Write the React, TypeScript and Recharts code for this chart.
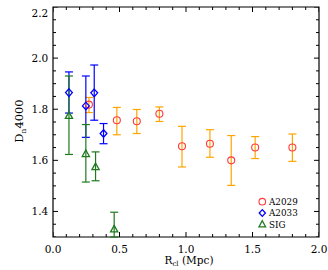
import React from "react";
import { ScatterChart, Scatter, XAxis, YAxis, ErrorBar, ReferenceArea } from "recharts";

// A2029
const a2029R = [0.27, 0.48, 0.63, 0.8, 0.97, 1.18, 1.34, 1.52, 1.8];
const a2029D = [1.818, 1.757, 1.753, 1.782, 1.655, 1.665, 1.6, 1.65, 1.65];
const a2029Lo = [1.787, 1.7, 1.705, 1.752, 1.574, 1.612, 1.502, 1.607, 1.596];
const a2029Hi = [1.846, 1.807, 1.799, 1.809, 1.733, 1.72, 1.697, 1.693, 1.703];

// A2033
const a2033R = [0.12, 0.247, 0.31, 0.38];
const a2033D = [1.865, 1.813, 1.864, 1.705];
const a2033Lo = [1.785, 1.69, 1.757, 1.665];
const a2033Hi = [1.946, 1.93, 1.973, 1.744];

// SIG
const sigR = [0.12, 0.247, 0.32, 0.46];
const sigD = [1.774, 1.625, 1.574, 1.33];
const sigLo = [1.623, 1.515, 1.52, 1.3];
const sigHi = [1.93, 1.74, 1.633, 1.397];

const seriesNames = ["A2029", "A2033", "SIG"];

const xMajor = [0, 0.5, 1.0, 1.5, 2.0];
const yMajor = [1.4, 1.6, 1.8, 2.0, 2.2];
const xDomain = [0, 2];
const yDomain = [1.3, 2.2];

const FONT = "DejaVu Serif";
const RED = "#ff3b3b";
const ORANGE = "#ffa500";
const BLUE = "#0000ff";
const GREEN = "#1d7a1d";

const makeRows = (r: number[], d: number[], lo: number[], hi: number[]) =>
  r.map((x, i) => ({ r: x, d: d[i], err: [d[i] - lo[i], hi[i] - d[i]] }));

const a2029 = makeRows(a2029R, a2029D, a2029Lo, a2029Hi);
const a2033 = makeRows(a2033R, a2033D, a2033Lo, a2033Hi);
const sig = makeRows(sigR, sigD, sigLo, sigHi);

// minor ticks every 0.1 in x, 0.05 in y
const xTicks: number[] = [];
for (let i = 0; i <= 20; i++) xTicks.push(i / 10);
const yTicks: number[] = [];
for (let i = 0; i <= 18; i++) yTicks.push(Math.round((1.3 + i * 0.05) * 100) / 100);

const isMajor = (v: number, majors: number[]) => majors.some((m) => Math.abs(m - v) < 1e-6);

// tick marks on all four sides, pointing inwards
const bottomMarks = xTicks.map((x) => ({ r: x, d: yDomain[0], side: "b", major: isMajor(x, xMajor) }));
const topMarks = xTicks.map((x) => ({ r: x, d: yDomain[1], side: "t", major: isMajor(x, xMajor) }));
const leftMarks = yTicks.map((y) => ({ r: xDomain[0], d: y, side: "l", major: isMajor(y, yMajor) }));
const rightMarks = yTicks.map((y) => ({ r: xDomain[1], d: y, side: "r", major: isMajor(y, yMajor) }));
const allMarks = [...bottomMarks, ...topMarks, ...leftMarks, ...rightMarks];

const TickMark = (p: any) => {
  const { cx, cy } = p;
  const { side, major } = p.payload;
  const len = major ? 5 : 3;
  let d = "";
  if (side === "b") d = `M${cx},${cy}L${cx},${cy - len}`;
  if (side === "t") d = `M${cx},${cy}L${cx},${cy + len}`;
  if (side === "l") d = `M${cx},${cy}L${cx + len},${cy}`;
  if (side === "r") d = `M${cx},${cy}L${cx - len},${cy}`;
  return <path d={d} stroke="#000" strokeWidth={1} fill="none" />;
};

const CircleShape = (p: any) => (
  <circle cx={p.cx} cy={p.cy} r={3.5} fill="none" stroke={RED} strokeWidth={1.1} />
);
const DiamondShape = (p: any) => (
  <path
    d={`M${p.cx},${p.cy - 3.8}L${p.cx + 3.4},${p.cy}L${p.cx},${p.cy + 3.8}L${p.cx - 3.4},${p.cy}Z`}
    fill="none"
    stroke={BLUE}
    strokeWidth={1.3}
  />
);
const TriangleShape = (p: any) => (
  <path
    d={`M${p.cx},${p.cy - 4}L${p.cx + 3.6},${p.cy + 2.6}L${p.cx - 3.6},${p.cy + 2.6}Z`}
    fill="none"
    stroke={GREEN}
    strokeWidth={1.3}
  />
);

const BottomLabel = (p: any) => {
  const v = p.payload.value;
  if (!isMajor(v, xMajor)) return <g />;
  return (
    <text x={p.x} y={p.y + 16} textAnchor="middle" fontFamily={FONT} fontSize={10.5} fill="#000">
      {v.toFixed(1)}
    </text>
  );
};

const LeftLabel = (p: any) => {
  const v = p.payload.value;
  if (!isMajor(v, yMajor)) return <g />;
  const shift = Math.abs(v - 2.2) < 1e-6 ? 6 : 0;
  return (
    <text x={p.x - 4.7} y={p.y + 3.8 + shift} textAnchor="end" fontFamily={FONT} fontSize={10.5} fill="#000">
      {v.toFixed(1)}
    </text>
  );
};

const legendIcons = [
  (cx: number, cy: number) => <circle cx={cx} cy={cy} r={3.3} fill="none" stroke={RED} strokeWidth={1.1} />,
  (cx: number, cy: number) => (
    <path d={`M${cx},${cy - 3.4}L${cx + 3.1},${cy}L${cx},${cy + 3.4}L${cx - 3.1},${cy}Z`} fill="none" stroke={BLUE} strokeWidth={1.3} />
  ),
  (cx: number, cy: number) => (
    <path d={`M${cx},${cy - 3.6}L${cx + 3.3},${cy + 2.5}L${cx - 3.3},${cy + 2.5}Z`} fill="none" stroke={GREEN} strokeWidth={1.3} />
  ),
];

export default function App() {
  return (
    <div style={{ position: "absolute", left: 0, top: 0, width: 328, height: 270, background: "#fff" }}>
      <ScatterChart width={328} height={270} margin={{ top: 7, right: 9, bottom: 0, left: 0 }}>
        <XAxis
          type="number"
          dataKey="r"
          domain={xDomain}
          ticks={xTicks}
          interval={0}
          tick={<BottomLabel />}
          tickSize={0}
          tickMargin={0}
          tickLine={false}
          axisLine={false}
          height={33}
          allowDataOverflow
        />
        <YAxis
          type="number"
          dataKey="d"
          domain={yDomain}
          ticks={yTicks}
          interval={0}
          tick={<LeftLabel />}
          tickSize={0}
          tickMargin={0}
          tickLine={false}
          axisLine={false}
          width={53}
          allowDataOverflow
        />
        <ReferenceArea
          x1={xDomain[0]}
          x2={xDomain[1]}
          y1={yDomain[0]}
          y2={yDomain[1]}
          fill="none"
          stroke="#000"
          strokeWidth={1.2}
          ifOverflow="visible"
        />
        <Scatter data={allMarks} shape={TickMark} isAnimationActive={false} legendType="none" />
        <Scatter name={seriesNames[0]} data={a2029} shape={CircleShape} isAnimationActive={false}>
          <ErrorBar dataKey="err" direction="y" width={4} stroke={ORANGE} strokeWidth={1.2} />
        </Scatter>
        <Scatter name={seriesNames[1]} data={a2033} shape={DiamondShape} isAnimationActive={false}>
          <ErrorBar dataKey="err" direction="y" width={4} stroke={BLUE} strokeWidth={1.2} />
        </Scatter>
        <Scatter name={seriesNames[2]} data={sig} shape={TriangleShape} isAnimationActive={false}>
          <ErrorBar dataKey="err" direction="y" width={4} stroke={GREEN} strokeWidth={1.2} />
        </Scatter>
      </ScatterChart>

      {/* titles and legend */}
      <svg
        width={328}
        height={270}
        style={{ position: "absolute", left: 0, top: 0, pointerEvents: "none" }}
        fontFamily={FONT}
      >
        <text x={189} y={264} textAnchor="middle" fontSize={10.5} fill="#000">
          R
          <tspan fontSize={7} dy={2}>cl</tspan>
          <tspan dy={-2}> (Mpc)</tspan>
        </text>
        <text x={23} y={121} transform="rotate(-90, 23, 121)" textAnchor="middle" fontSize={11.5} fill="#000">
          D
          <tspan fontSize={7.5} dy={2.5}>n</tspan>
          <tspan dy={-2.5}>4000</tspan>
        </text>
        {seriesNames.map((n, i) => {
          const cy = 201.7 + i * 11.3;
          return (
            <g key={n}>
              {legendIcons[i](262.3, cy)}
              <text x={269} y={cy + 3.2} fontSize={8.8} fill="#000">
                {n}
              </text>
            </g>
          );
        })}
      </svg>
    </div>
  );
}
